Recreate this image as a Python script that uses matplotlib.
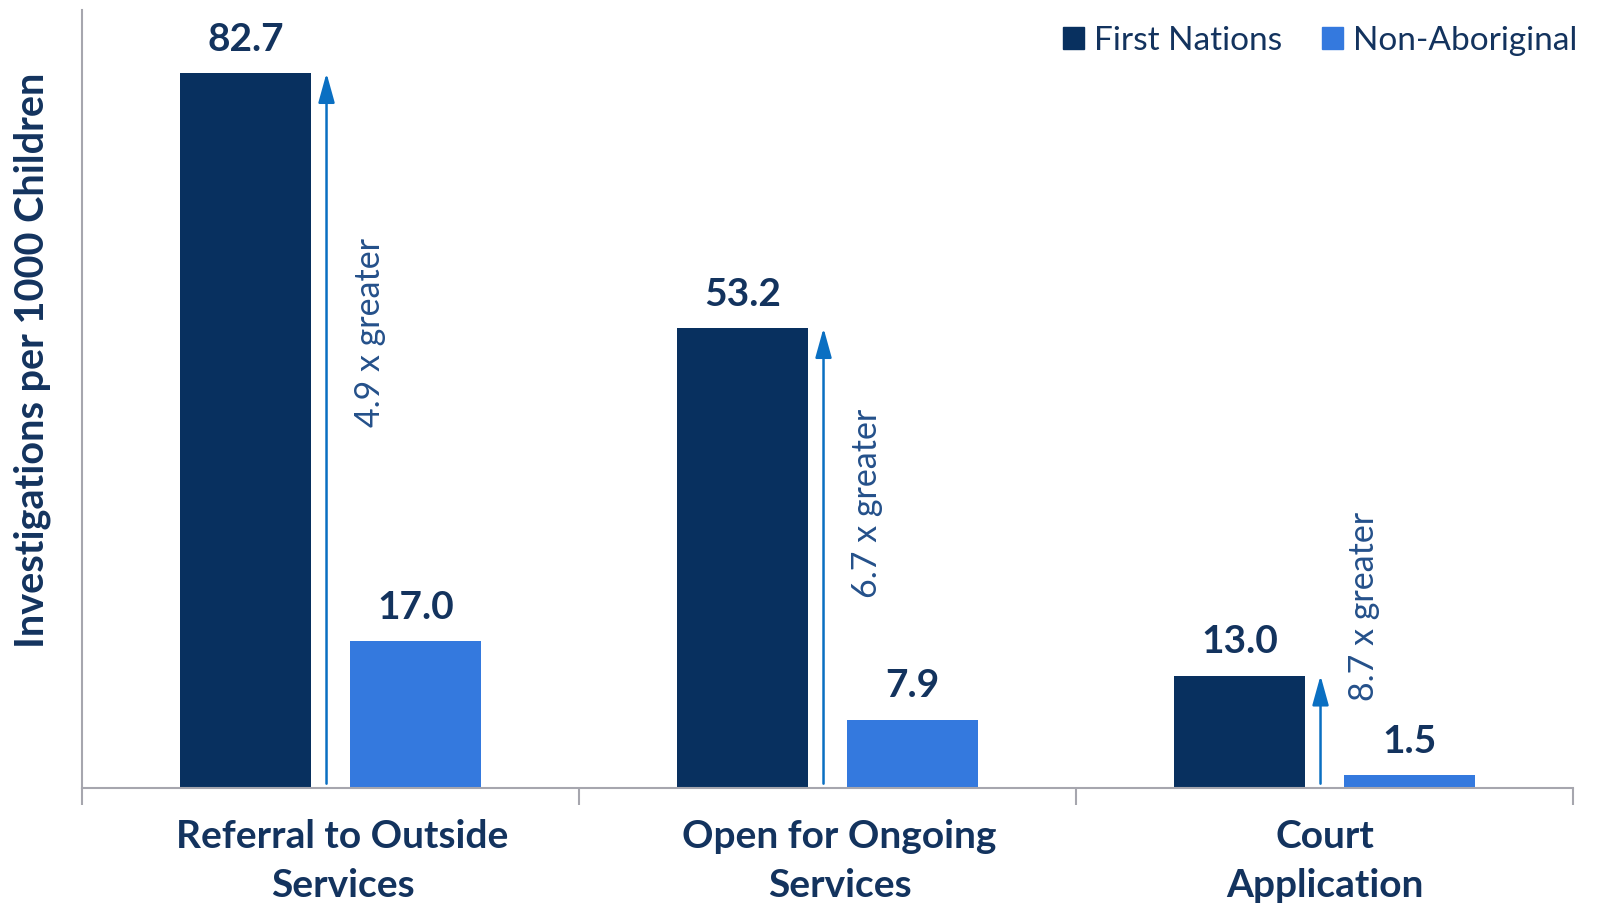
import matplotlib.pyplot as plt
from matplotlib.patches import Patch
from matplotlib.transforms import ScaledTranslation
import numpy as np

plt.rcParams['font.family'] = ['Lato', 'DejaVu Sans']

categories = ['Referral to Outside\nServices', 'Open for Ongoing\nServices', 'Court\nApplication']
first_nations = [82.7, 53.2, 13.0]
non_aboriginal = [17.0, 7.9, 1.5]
ratio_label_y = [41.8, 22.0, 10.1]

FN_COLOR = '#08305F'
NA_COLOR = '#3479DE'
TEXT_COLOR = '#13335E'
ARROW_COLOR = '#0A6FC2'
RATIO_COLOR = '#24508A'

fig = plt.figure(figsize=(15.99, 9.07), dpi=100)
ax = fig.add_axes([82 / 1599, 1 - 788 / 907, (1573 - 82) / 1599, (788 - 10) / 907])

x = np.arange(len(categories))
w = 0.264
off = 0.171
ax.bar(x - off, first_nations, w, color=FN_COLOR, label='First Nations')
ax.bar(x + off, non_aboriginal, w, color=NA_COLOR, label='Non-Aboriginal')

for i in range(len(categories)):
    for xi, v in ((x[i] - off, first_nations[i]), (x[i] + off, non_aboriginal[i])):
        ax.annotate(f'{v:.1f}', (xi, v), xytext=(0, 16), textcoords='offset points',
                    ha='center', va='baseline', fontsize=28, fontweight='bold', color=TEXT_COLOR)
    # arrow from baseline up to the First Nations value
    ax.annotate('', xy=(x[i] - 0.008, first_nations[i]), xytext=(x[i] - 0.008, 0.5),
                arrowprops=dict(arrowstyle='-|>,head_length=1.8,head_width=0.5',
                                color=ARROW_COLOR, lw=1.8, shrinkA=0, shrinkB=0,
                                mutation_scale=10))
    ratio = first_nations[i] / non_aboriginal[i]
    ax.text(x[i] + 0.08, ratio_label_y[i], f'{ratio:.1f} x greater', rotation=90,
            ha='center', va='bottom', fontsize=24.5, color=RATIO_COLOR)

ax.set_xlim(-0.5, 2.5)
ax.set_ylim(0, 90)
ax.set_xticks(x)
ax.set_xticklabels(categories, fontsize=28, fontweight='bold', color=TEXT_COLOR, linespacing=1.5)
ax.set_xticks([-0.5, 0.5, 1.5, 2.5], minor=True)
ax.tick_params(axis='x', which='major', length=0, pad=22)
ax.tick_params(axis='x', which='minor', length=12, width=1.5, color='#A6A6AE')
# the first two labels sit a little right of centre in the original
for lbl in ax.get_xticklabels()[:2]:
    lbl.set_transform(lbl.get_transform() + ScaledTranslation(12 / 100, 0, fig.dpi_scale_trans))
ax.set_yticks([])
for s in ('top', 'right'):
    ax.spines[s].set_visible(False)
for s in ('left', 'bottom'):
    ax.spines[s].set_color('#A6A6AE')
    ax.spines[s].set_linewidth(1.5)

ax.set_ylabel('Investigations per 1000 Children', fontsize=28.5, fontweight='bold', color=TEXT_COLOR)
ax.yaxis.set_label_coords(-0.0205, 0.55)

handles = [Patch(color=FN_COLOR, label='First Nations'), Patch(color=NA_COLOR, label='Non-Aboriginal')]
leg = fig.legend(handles=handles, loc='upper right', bbox_to_anchor=(1577 / 1599, 1 - 26 / 907),
                 ncol=2, frameon=False, fontsize=24, handlelength=0.62, handleheight=0.62,
                 handletextpad=0.3, columnspacing=1.2, borderpad=0, borderaxespad=0)
for t in leg.get_texts():
    t.set_color(TEXT_COLOR)

fig.savefig('out.png', dpi=100)
